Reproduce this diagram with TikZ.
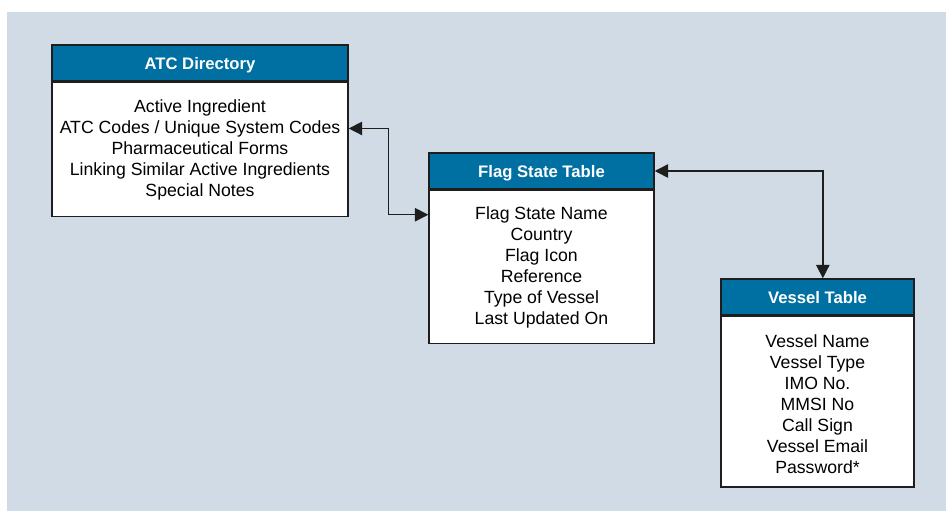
\documentclass[tikz,border=0pt]{standalone}
\usepackage{fontspec}
\setmainfont{Liberation Sans}
\usepackage{xcolor}
\usetikzlibrary{arrows.meta, positioning, calc}
\definecolor{headblue}{HTML}{0070A3}
\definecolor{panel}{HTML}{D1DBE5}
\definecolor{edge}{HTML}{1E1E1E}

\begin{document}
\begin{tikzpicture}[x=0.75pt, y=-0.75pt,
  tabhead/.style={draw=edge, line width=1.1pt, fill=headblue, text=white,
    font=\fontsize{12.5}{15}\selectfont\bfseries, minimum height=27pt, inner sep=0pt,
    text height=9pt, text depth=0pt},
  tabbody/.style={draw=edge, line width=1.1pt, fill=white, align=center,
    font=\fontsize{13.25}{15.75}\selectfont, inner sep=0pt, below=0pt of #1},
  link/.style={draw=edge, line width=1.1pt, {Triangle[length=10pt,width=10pt]}-{Triangle[length=10pt,width=10pt]}}]
\useasboundingbox (0,0) rectangle (946,511);
\fill[panel] (7,12) rectangle (946,511);

% tables
\node[tabhead, minimum width=222pt] (atchead) at (200,63) {ATC Directory};
\node[tabbody=atchead, minimum width=222pt, minimum height=100.5pt] (atcbody)
  {Active Ingredient\\ATC Codes / Unique System Codes\\Pharmaceutical Forms\\Linking Similar Active Ingredients\\Special Notes};

\node[tabhead, minimum width=168.75pt] (flaghead) at (541.5,171) {Flag State Table};
\node[tabbody=flaghead, minimum width=168.75pt, minimum height=114.75pt] (flagbody)
  {Flag State Name\\Country\\Flag Icon\\Reference\\Type of Vessel\\Last Updated On};

\node[tabhead, minimum width=144.75pt] (vesselhead) at (817.5,297) {Vessel Table};
\node[tabbody=vesselhead, minimum width=144.75pt, minimum height=127.9pt] (vesselbody)
  {\rule{0pt}{14pt}Vessel Name\\Vessel Type\\IMO No.\\MMSI No\\Call Sign\\Vessel Email\\Password*};

% relations
\draw[link] ([yshift=15.75pt]atcbody.east) -- ++(30pt,0) |- ([yshift=-18.75pt]flaghead.south west);
\draw[link] (flaghead.east) -| ([xshift=4pt]vesselhead.north);
\end{tikzpicture}
\end{document}
